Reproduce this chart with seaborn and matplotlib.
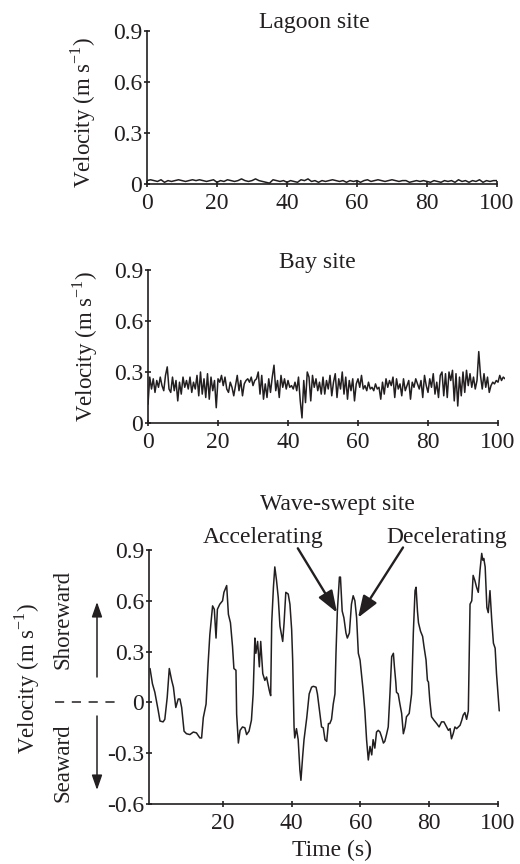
import matplotlib
matplotlib.use('Agg')
import matplotlib.pyplot as plt
import seaborn as sns
import pandas as pd

sns.set_theme(style='ticks')
plt.rcParams['font.family'] = ['Liberation Serif', 'DejaVu Serif']
plt.rcParams['mathtext.fontset'] = 'custom'
plt.rcParams['mathtext.rm'] = 'Liberation Serif'
plt.rcParams['axes.unicode_minus'] = False

ink = '#231f20'
fts = 17
fts_tick = 17
fts_ylab = 16.5

# ---- data ----
lagoon_t = list(range(0, 101))
lagoon_v = [0.02, 0.025, 0.02, 0.015, 0.025, 0.01, 0.02, 0.015, 0.02, 0.025,
            0.02, 0.015, 0.02, 0.025, 0.02, 0.025, 0.02, 0.015, 0.02, 0.025,
            0.01, 0.02, 0.015, 0.025, 0.02, 0.015, 0.02, 0.03, 0.02, 0.015,
            0.02, 0.03, 0.02, 0.015, 0.01, 0.005, 0.025, 0.02, 0.015, 0.02,
            0.01, 0.02, 0.015, 0.01, 0.025, 0.02, 0.03, 0.015, 0.02, 0.01,
            0.02, 0.015, 0.02, 0.025, 0.02, 0.015, 0.02, 0.01, 0.02, 0.015,
            0.02, 0.01, 0.02, 0.025, 0.015, 0.02, 0.025, 0.02, 0.015, 0.02,
            0.025, 0.02, 0.015, 0.02, 0.02, 0.01, 0.015, 0.02, 0.015, 0.02,
            0.015, 0.01, 0.02, 0.015, 0.01, 0.02, 0.015, 0.02, 0.01, 0.025,
            0.015, 0.02, 0.01, 0.02, 0.015, 0.025, 0.01, 0.02, 0.015, 0.02,
            0.02]

bay_t = [i * 0.5 for i in range(0, 205)]
bay_v = [0.11, 0.27, 0.20, 0.26, 0.18, 0.25, 0.21, 0.27, 0.22, 0.19,
         0.28, 0.33, 0.20, 0.18, 0.27, 0.19, 0.25, 0.13, 0.24, 0.17,
         0.27, 0.21, 0.25, 0.20, 0.27, 0.18, 0.24, 0.20, 0.28, 0.16,
         0.30, 0.17, 0.26, 0.15, 0.29, 0.14, 0.27, 0.19, 0.25, 0.09,
         0.26, 0.24, 0.28, 0.22, 0.27, 0.20, 0.18, 0.24, 0.21, 0.16,
         0.22, 0.28, 0.19, 0.25, 0.16, 0.23, 0.25, 0.26, 0.24, 0.27,
         0.22, 0.25, 0.26, 0.30, 0.17, 0.28, 0.14, 0.23, 0.15, 0.26,
         0.18, 0.27, 0.34, 0.19, 0.25, 0.15, 0.28, 0.21, 0.26, 0.20,
         0.25, 0.21, 0.22, 0.20, 0.24, 0.19, 0.27, 0.13, 0.03, 0.25,
         0.12, 0.30, 0.27, 0.13, 0.28, 0.21, 0.26, 0.19, 0.24, 0.17,
         0.27, 0.17, 0.25, 0.20, 0.28, 0.16, 0.24, 0.29, 0.15, 0.26,
         0.20, 0.30, 0.17, 0.27, 0.14, 0.25, 0.19, 0.26, 0.13, 0.23,
         0.26, 0.21, 0.28, 0.20, 0.22, 0.19, 0.24, 0.20, 0.21, 0.19,
         0.23, 0.20, 0.21, 0.14, 0.24, 0.17, 0.26, 0.21, 0.25, 0.22,
         0.27, 0.15, 0.26, 0.20, 0.23, 0.16, 0.26, 0.19, 0.22, 0.25,
         0.14, 0.24, 0.21, 0.26, 0.23, 0.20, 0.25, 0.15, 0.28, 0.22,
         0.18, 0.26, 0.21, 0.29, 0.17, 0.24, 0.15, 0.28, 0.30, 0.16,
         0.29, 0.15, 0.30, 0.25, 0.31, 0.13, 0.29, 0.10, 0.27, 0.16,
         0.30, 0.18, 0.31, 0.22, 0.29, 0.21, 0.27, 0.20, 0.25, 0.42,
         0.28, 0.20, 0.29, 0.21, 0.27, 0.18, 0.22, 0.24, 0.23, 0.25,
         0.24, 0.28, 0.25, 0.27, 0.26]

wave_t = [-1.2, -0.5, 0.2, 1.2, 1.7, 2.6, 3.1, 3.8, 4.4, 5.1, 5.6, 6.3, 7.0, 7.5, 8.0,
          8.7, 9.4, 10.4, 11.4, 12.3, 13.3, 13.8, 14.3, 15.1, 15.7, 16.2, 17.0, 17.5,
          18.0, 18.4, 19.1, 19.9, 20.3, 21.1, 21.6, 22.2, 22.8, 23.2, 23.8, 24.0, 24.5,
          25.0, 25.7, 26.4, 26.9, 27.6, 28.3, 28.8, 29.3, 29.6, 30.1, 30.6, 31.0, 31.6,
          32.2, 32.7, 33.5, 33.9, 34.2, 34.7, 35.1, 35.6, 36.1, 36.6, 37.4, 37.8, 38.3,
          39.0, 39.5, 40.0, 40.3, 40.7, 40.9, 41.4, 41.9, 42.4, 42.7, 43.2, 43.6, 44.4,
          45.1, 45.8, 46.3, 47.1, 47.5, 48.0, 48.7, 49.2, 49.7, 50.2, 50.7, 51.1, 51.6,
          52.1, 52.6, 52.9, 53.3, 53.9, 54.2, 54.7, 55.2, 55.8, 56.2, 56.8, 57.4, 57.9,
          58.4, 58.9, 59.4, 59.9, 60.4, 60.8, 61.3, 61.8, 62.3, 62.8, 63.3, 63.7, 64.2,
          64.7, 65.2, 65.7, 66.2, 66.7, 67.1, 67.6, 68.1, 68.6, 69.1, 69.6, 69.9, 70.3,
          70.5, 71.0, 71.5, 72.0, 72.5, 73.0, 73.4, 74.2, 74.9, 75.4, 75.9, 76.2, 76.6,
          76.9, 77.5, 78.1, 78.5, 79.1, 79.5, 79.8, 80.2, 80.7, 81.4, 82.2, 82.9, 83.6,
          84.3, 85.1, 85.6, 86.1, 86.5, 87.0, 87.5, 88.0, 89.0, 89.5, 89.9, 90.4, 90.9,
          91.4, 91.9, 92.4, 92.8, 93.3, 93.8, 94.3, 94.8, 95.3, 95.6, 95.9, 96.3, 96.8,
          97.2, 97.7, 98.2, 98.7, 99.2, 99.6, 99.9, 100.4]
wave_v = [0.20, 0.11, 0.06, -0.05, -0.11, -0.115, -0.10, 0.03, 0.20, 0.13, 0.09, -0.03, 0.02, 0.02, -0.03,
          -0.17, -0.185, -0.19, -0.175, -0.18, -0.21, -0.21, -0.09, -0.01, 0.23, 0.40, 0.57, 0.55,
          0.38, 0.55, 0.58, 0.60, 0.65, 0.69, 0.52, 0.47, 0.33, 0.20, 0.19, -0.07, -0.24,
          -0.165, -0.145, -0.15, -0.19, -0.17, -0.105, 0.05, 0.38, 0.29, 0.36, 0.21, 0.36, 0.17,
          0.13, 0.15, 0.07, 0.04, 0.47, 0.68, 0.80, 0.72, 0.62, 0.45, 0.36, 0.47, 0.65,
          0.64, 0.58, 0.43, 0.25, -0.145, -0.21, -0.155, -0.22, -0.40, -0.46, -0.32, -0.22, -0.09,
          0.05, 0.09, 0.095, 0.09, 0.05, -0.03, -0.145, -0.15, -0.22, -0.23, -0.125, -0.125, -0.10,
          -0.01, 0.05, 0.29, 0.54, 0.74, 0.74, 0.54, 0.50, 0.41, 0.38, 0.41, 0.58, 0.63,
          0.60, 0.50, 0.29, 0.25, 0.15, 0.07, -0.05, -0.22, -0.34, -0.26, -0.31, -0.22, -0.27,
          -0.175, -0.165, -0.175, -0.205, -0.24, -0.23, -0.19, -0.145, 0.05, 0.27, 0.29, 0.21, 0.12,
          0.06, 0.05, -0.01, -0.065, -0.185, -0.145, -0.085, -0.065, 0.05, 0.41, 0.66, 0.68, 0.54,
          0.47, 0.42, 0.39, 0.33, 0.25, 0.13, 0.12, 0.01, -0.085, -0.105, -0.125, -0.145, -0.115,
          -0.115, -0.145, -0.165, -0.155, -0.215, -0.185, -0.145, -0.155, -0.135, -0.105, -0.075, -0.06, -0.10,
          -0.05, 0.58, 0.60, 0.75, 0.72, 0.68, 0.65, 0.78, 0.88, 0.84, 0.85, 0.80, 0.56,
          0.53, 0.66, 0.49, 0.35, 0.32, 0.17, 0.09, -0.05]

top_yticks = [0, 0.3, 0.6, 0.9]
top_ylabels = ['0', '0.3', '0.6', '0.9']
top_xticks = [0, 20, 40, 60, 80, 100]
wave_yticks = [-0.6, -0.3, 0, 0.3, 0.6, 0.9]
wave_ylabels = ['-0.6', '-0.3', '0', '0.3', '0.6', '0.9']
wave_xticks = [20, 40, 60, 80, 100]

W, H = 520, 864
fig = plt.figure(figsize=(W / 100, H / 100), dpi=100)


def px_axes(left, top, right, bottom):
    return fig.add_axes([left / W, 1 - bottom / H, (right - left) / W, (bottom - top) / H])


def style(ax, xlim, ylim, xspan):
    ax.set_xlim(*xlim)
    ax.set_ylim(*ylim)
    sns.despine(ax=ax)
    ax.spines['bottom'].set_bounds(*xspan)
    for s in ('left', 'bottom'):
        ax.spines[s].set_color(ink)
        ax.spines[s].set_linewidth(1.2)
    ax.tick_params(axis='both', direction='inout', length=5, width=1.2, color=ink,
                   labelcolor=ink, labelsize=fts_tick)
    ax.tick_params(axis='y', pad=1)
    ax.tick_params(axis='x', pad=4)
    ax.set_xlabel('')
    ax.set_ylabel('')
    ax.grid(False)


# lagoon
ax1 = px_axes(147, 31, 497, 184)
sns.lineplot(x=lagoon_t, y=lagoon_v, color=ink, linewidth=1.1, estimator=None, ax=ax1)
ax1.set_xticks(top_xticks)
ax1.set_yticks(top_yticks, top_ylabels)
style(ax1, (0, 100), (0, 0.9), (0, 100))

# bay
ax2 = px_axes(148, 270, 505, 423)
sns.lineplot(x=bay_t, y=bay_v, color=ink, linewidth=1.1, estimator=None, ax=ax2)
ax2.set_xticks(top_xticks)
ax2.set_yticks(top_yticks, top_ylabels)
style(ax2, (0, 102), (0, 0.9), (0, 100))

# wave-swept
ax3 = px_axes(149, 550, 499.6, 804)
sns.lineplot(x=wave_t, y=wave_v, color=ink, linewidth=1.1, estimator=None, ax=ax3)
ax3.set_xticks(wave_xticks)
ax3.set_yticks(wave_yticks, wave_ylabels)
style(ax3, (-1.5, 100.5), (-0.6, 0.9), (-1.5, 100))


def ftext(x, y, s, size=fts, **kw):
    kw.setdefault('ha', 'center')
    fig.text(x / W, 1 - y / H, s, fontsize=size, color=ink, **kw)


ylab = r'Velocity (m s$^{\mathregular{-1}}$)'
ftext(314, 28, 'Lagoon site', va='baseline')
ftext(317, 268, 'Bay site', va='baseline')
ftext(337, 510, 'Wave-swept site', va='baseline')
ftext(263, 543, 'Accelerating', va='baseline')
ftext(447, 543, 'Decelerating', va='baseline')
ftext(332, 856, 'Time (s)', va='baseline')
ftext(83, 112, ylab, size=fts_ylab, va='center', rotation=90)
ftext(85, 346, ylab, size=fts_ylab, va='center', rotation=90)
ftext(27, 678, ylab, size=fts_ylab, va='center', rotation=90)
ftext(63, 619, 'Shoreward', size=fts_ylab, va='center', rotation=90)
ftext(63, 763, 'Seaward', size=fts_ylab, va='center', rotation=90)

# accelerating / decelerating arrows
big = dict(arrowstyle='-|>,head_length=1.1,head_width=0.4', color=ink, lw=1.7,
           mutation_scale=12, shrinkA=0, shrinkB=0)
ax3.annotate('', xy=(53.2, 0.53), xytext=(41.8, 0.91), arrowprops=big, annotation_clip=False)
ax3.annotate('', xy=(59.3, 0.50), xytext=(72.4, 0.915), arrowprops=big, annotation_clip=False)

# shoreward / seaward arrows and dashed zero marker (figure pixels)
small = dict(arrowstyle='-|>,head_length=1.0,head_width=0.35', color=ink, lw=1.1,
             mutation_scale=9, shrinkA=0, shrinkB=0)
fig.add_artist(plt.Line2D([55 / W, 117 / W], [1 - 702 / H, 1 - 702 / H], color=ink,
                          lw=1.1, dashes=(6, 5)))
ax3.annotate('', xy=(97 / W, 1 - 602 / H), xytext=(97 / W, 1 - 677 / H),
             xycoords='figure fraction', arrowprops=small)
ax3.annotate('', xy=(97 / W, 1 - 790 / H), xytext=(97 / W, 1 - 716 / H),
             xycoords='figure fraction', arrowprops=small)

plt.savefig('out.png', dpi=100)
plt.close()
